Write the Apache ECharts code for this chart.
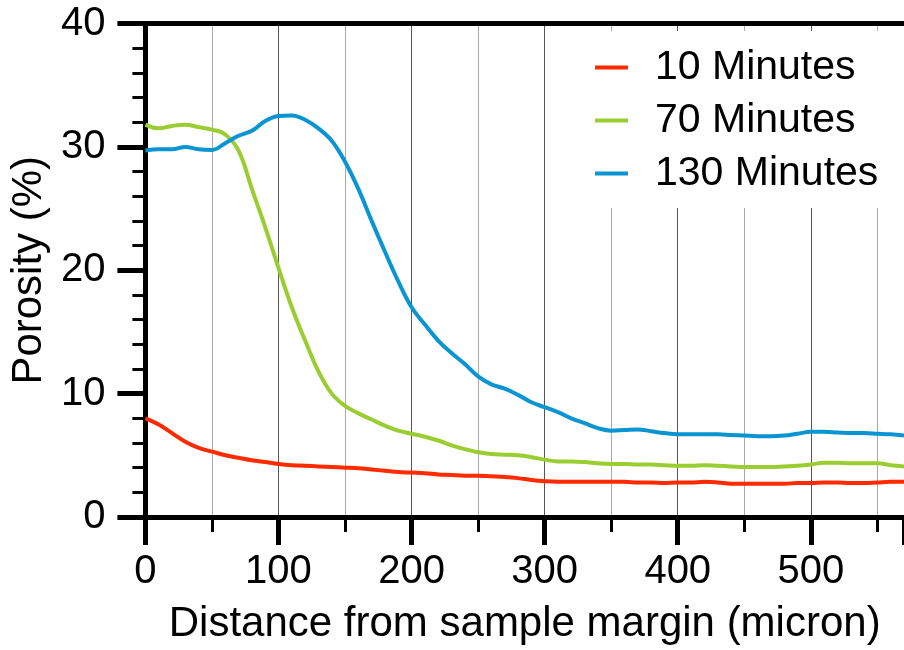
<!DOCTYPE html>
<html>
<head>
<meta charset="utf-8">
<script src="https://cdn.jsdelivr.net/npm/echarts@6/dist/echarts.min.js"></script>
<style>
  html, body { margin: 0; padding: 0; background: #fff; }
  #chart { width: 904px; height: 650px; }
</style>
</head>
<body>
<div id="chart"></div>
<script>
// distance from margin (micron), one value every 10
const distance = [0, 10, 20, 30, 40, 50, 60, 70, 80, 90, 100, 110, 120, 130, 140, 150, 160, 170, 180, 190,
  200, 210, 220, 230, 240, 250, 260, 270, 280, 290, 300, 310, 320, 330, 340, 350, 360, 370, 380, 390,
  400, 410, 420, 430, 440, 450, 460, 470, 480, 490, 500, 510, 520, 530, 540, 550, 560, 570];

// porosity (%)
const min10 = [8.0, 7.5, 6.8, 6.1, 5.6, 5.3, 5.0, 4.8, 4.6, 4.45, 4.3, 4.2, 4.15, 4.1, 4.05, 4.0, 3.95, 3.85, 3.75, 3.65,
  3.6, 3.55, 3.45, 3.4, 3.35, 3.35, 3.3, 3.25, 3.15, 3.0, 2.9, 2.85, 2.85, 2.85, 2.85, 2.85, 2.85, 2.8, 2.8, 2.75,
  2.8, 2.8, 2.85, 2.8, 2.7, 2.7, 2.7, 2.7, 2.7, 2.75, 2.75, 2.8, 2.8, 2.75, 2.75, 2.8, 2.85, 2.85];
const min70 = [31.8, 31.5, 31.7, 31.8, 31.6, 31.4, 31.0, 29.7, 26.6, 23.5, 20.2, 17.0, 14.3, 11.8, 10.0, 9.0, 8.4, 7.9, 7.4, 7.0,
  6.75, 6.5, 6.2, 5.8, 5.5, 5.25, 5.1, 5.05, 5.0, 4.85, 4.65, 4.5, 4.5, 4.45, 4.35, 4.3, 4.3, 4.25, 4.25, 4.2,
  4.15, 4.15, 4.2, 4.15, 4.1, 4.05, 4.05, 4.05, 4.1, 4.15, 4.25, 4.4, 4.4, 4.35, 4.35, 4.35, 4.2, 4.1];
const min130 = [29.7, 29.8, 29.8, 30.0, 29.8, 29.75, 30.3, 30.9, 31.3, 32.1, 32.5, 32.55, 32.2, 31.5, 30.5, 28.8, 26.6, 24.0, 21.5, 19.1,
  17.0, 15.6, 14.3, 13.3, 12.4, 11.4, 10.75, 10.4, 9.9, 9.3, 8.9, 8.5, 8.0, 7.6, 7.2, 7.0, 7.05, 7.1, 6.95, 6.8,
  6.7, 6.7, 6.7, 6.7, 6.65, 6.6, 6.55, 6.55, 6.6, 6.75, 6.9, 6.9, 6.85, 6.8, 6.8, 6.75, 6.7, 6.6];

const names = ['10 Minutes', '70 Minutes', '130 Minutes'];
const colors = ['#ff2a00', '#9acd32', '#0a94d2'];

const font = '"Liberation Sans", Arial, Helvetica, sans-serif';

function pairs(ys) {
  return distance.map((x, i) => [x, ys[i]]);
}

const chart = echarts.init(document.getElementById('chart'));
chart.setOption({
  animation: false,
  color: colors,
  textStyle: { fontFamily: font, color: '#000' },
  grid: { left: 143.5, top: 23.5, right: 0, bottom: 130 },
  legend: {
    orient: 'vertical',
    left: 575,
    top: 31,
    padding: [16, 20, 14, 20],
    backgroundColor: '#fff',
    itemGap: 12,
    itemWidth: 33,
    itemHeight: 4,
    icon: 'rect',
    data: names,
    textStyle: { fontSize: 41, lineHeight: 40, fontFamily: font, color: '#000', padding: [0, 0, 0, 22] }
  },
  xAxis: [{
    type: 'value',
    min: 0, max: 570, interval: 100,
    name: 'Distance from sample margin (micron)',
    nameLocation: 'middle',
    nameGap: 86,
    nameTextStyle: { fontSize: 42, fontFamily: font, color: '#000' },
    axisLine: { show: true, lineStyle: { color: '#000', width: 5 } },
    axisTick: { show: true, length: 28, lineStyle: { color: '#000', width: 5 } },
    minorTick: { show: true, splitNumber: 2, length: 15, lineStyle: { color: '#000', width: 3 } },
    axisLabel: { fontSize: 40, margin: 35, color: '#000', fontFamily: font, showMaxLabel: false },
    splitLine: { show: true, lineStyle: { color: '#555', width: 1 } },
    minorSplitLine: { show: true, lineStyle: { color: '#aaa', width: 1 } }
  }, {
    type: 'value',
    position: 'top',
    min: 0, max: 570,
    axisLine: { show: true, lineStyle: { color: '#000', width: 5 } },
    axisTick: { show: false },
    axisLabel: { show: false },
    splitLine: { show: false }
  }],
  yAxis: {
    type: 'value',
    min: 0, max: 40, interval: 10,
    name: 'Porosity (%)',
    nameLocation: 'middle',
    nameGap: 92,
    nameTextStyle: { fontSize: 42, fontFamily: font, color: '#000' },
    axisLine: { show: true, lineStyle: { color: '#000', width: 5 } },
    axisTick: { show: true, length: 28, lineStyle: { color: '#000', width: 5 } },
    minorTick: { show: true, splitNumber: 5, length: 13, lineStyle: { color: '#000', width: 3 } },
    axisLabel: { fontSize: 40, margin: 40, color: '#000', fontFamily: font },
    splitLine: { show: false }
  },
  series: [min10, min70, min130].map((ys, i) => ({
    name: names[i],
    type: 'line',
    data: pairs(ys),
    showSymbol: false,
    smooth: 0.4,
    lineStyle: { width: 4, color: colors[i] },
    itemStyle: { color: colors[i] },
    z: 3
  }))
});
</script>
</body>
</html>
